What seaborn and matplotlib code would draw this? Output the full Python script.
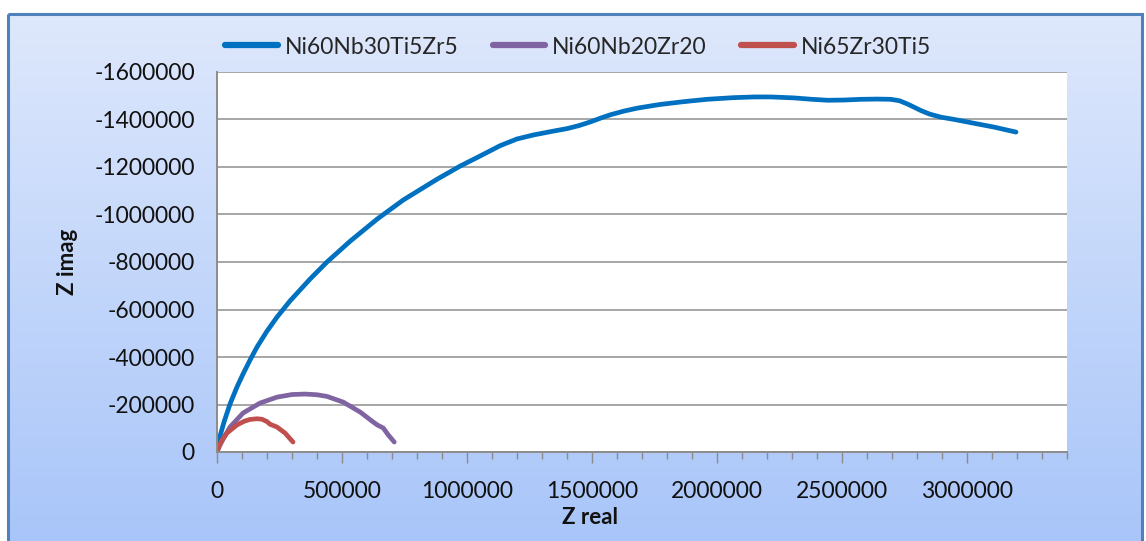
import numpy as np
import pandas as pd
import matplotlib
matplotlib.use("Agg")
import matplotlib.pyplot as plt
from matplotlib.patches import Rectangle
from matplotlib.ticker import MultipleLocator, FuncFormatter
import seaborn as sns

# ---- data ----
series_names = ["Ni60Nb30Ti5Zr5", "Ni60Nb20Zr20", "Ni65Zr30Ti5"]

zreal_a = [0, 12000, 28000, 52000, 80000, 104000, 132000, 160000, 200000, 240000,
           292000, 372000, 440000, 533000, 641000, 745000, 881000, 973000, 1050000,
           1133000, 1200000, 1266000, 1340000, 1402000, 1450000, 1494000, 1540000,
           1574000, 1630000, 1682000, 1770000, 1866000, 1960000, 2066000, 2150000,
           2215000, 2307000, 2380000, 2443000, 2510000, 2575000, 2640000, 2695000,
           2730000, 2760000, 2790000, 2815000, 2850000, 2895000, 2950000, 3004000,
           3108000, 3196000]
zimag_a = [0, -67000, -126000, -202000, -274000, -328000, -387000, -442000, -509000, -568000,
           -636000, -728000, -800000, -888000, -981000, -1061000, -1149000, -1204000, -1245000,
           -1290000, -1318000, -1335000, -1350000, -1362000, -1375000, -1390000, -1408000,
           -1420000, -1436000, -1448000, -1463000, -1475000, -1485000, -1492000, -1495000,
           -1495000, -1491000, -1485000, -1481000, -1482000, -1485000, -1486000, -1485000,
           -1479000, -1466000, -1451000, -1438000, -1423000, -1410000, -1400000, -1389000,
           -1368000, -1347000]

zreal_b = [0, 10000, 30000, 52000, 104000, 172000, 240000, 300000, 352000, 400000,
           440000, 505000, 573000, 620000, 641000, 665000, 685000, 709000]
zimag_b = [0, -25000, -65000, -105000, -164000, -206000, -231000, -242000, -244000, -241000,
           -234000, -210000, -168000, -130000, -114000, -101000, -72000, -42000]

zreal_c = [0, 8000, 20000, 40000, 80000, 110000, 132000, 160000, 180000, 200000,
           212000, 240000, 272000, 304000]
zimag_c = [0, -25000, -50000, -80000, -114000, -130000, -137000, -140000, -138000, -128000,
           -117000, -105000, -80000, -42000]

x_ticks = [0, 500000, 1000000, 1500000, 2000000, 2500000, 3000000]
y_ticks = [0, -200000, -400000, -600000, -800000, -1000000, -1200000, -1400000, -1600000]

colors = ["#0070C0", "#8064A2", "#C0504D"]

df = pd.concat([
    pd.DataFrame({"Z real": zreal_a, "Z imag": zimag_a, "series": series_names[0]}),
    pd.DataFrame({"Z real": zreal_b, "Z imag": zimag_b, "series": series_names[1]}),
    pd.DataFrame({"Z real": zreal_c, "Z imag": zimag_c, "series": series_names[2]}),
], ignore_index=True)

sns.set_theme(style="white")
plt.rcParams["font.family"] = ["Lato", "DejaVu Sans"]
plt.rcParams["axes.unicode_minus"] = False

W, H = 1146, 541
fig = plt.figure(figsize=(W / 100, H / 100), dpi=100)
fig.patch.set_facecolor("white")

# gradient background frame
bg = fig.add_axes([0, 0, 1, 1], zorder=-10)
bg.set_xlim(0, W)
bg.set_ylim(H, 0)
bg.axis("off")
grad = np.linspace(0, 1, 256).reshape(-1, 1)
cmap = matplotlib.colors.LinearSegmentedColormap.from_list("g", ["#DEE8FC", "#A8C5F9"])
bg.imshow(grad, cmap=cmap, aspect="auto", extent=[8, 1142, H + 5, 14], zorder=0)
bg.add_patch(Rectangle((8, 14), 1134, H + 20, fill=False, edgecolor="#4F81BD", lw=2.2, zorder=1))

ax = fig.add_axes([217 / W, (H - 452) / H, 850 / W, 380 / H])
ax.set_facecolor("white")

sns.lineplot(data=df, x="Z real", y="Z imag", hue="series", units="series",
             estimator=None, sort=False, palette=colors, hue_order=series_names,
             linewidth=3.4, ax=ax, legend=False)
for ln in ax.lines:
    ln.set_solid_capstyle("round")
    ln.set_solid_joinstyle("round")

ax.set_xlim(0, 3400000)
ax.set_ylim(0, -1600000)
ax.set_xticks(x_ticks)
ax.xaxis.set_minor_locator(MultipleLocator(100000))
ax.set_yticks(y_ticks)
fmt = FuncFormatter(lambda v, p: f"{int(round(v))}")
ax.xaxis.set_major_formatter(fmt)
ax.yaxis.set_major_formatter(fmt)
ax.tick_params(axis="x", which="major", direction="out", length=8, width=1, color="#8C8C8C",
               labelsize=16.5, pad=13, bottom=True)
ax.tick_params(axis="x", which="minor", direction="out", length=5, width=1, color="#8C8C8C",
               bottom=True)
ax.tick_params(axis="y", length=0, labelsize=16.5, pad=16)
for lab in ax.get_xticklabels() + ax.get_yticklabels():
    lab.set_color("#111111")
ax.grid(axis="y", color="#A6A6A6", lw=1.4)
ax.grid(axis="x", visible=False)
for s in ["top", "right"]:
    ax.spines[s].set_visible(False)
for s in ["left", "bottom"]:
    ax.spines[s].set_color("#8C8C8C")
    ax.spines[s].set_linewidth(1.4)
ax.set_xlabel("")
ax.set_ylabel("")

fig.text(590 / W, 1 - 518 / H, "Z real", ha="center", va="center", fontsize=16,
         fontweight="bold", color="#111111")
fig.text(68 / W, 1 - 262 / H, "Z imag", ha="center", va="center", fontsize=16,
         fontweight="bold", rotation=90, color="#111111")

handles = [matplotlib.lines.Line2D([], [], color=c, lw=4.5) for c in colors]
fig.legend(handles, series_names, loc="center", bbox_to_anchor=(578 / W, 1 - 47 / H),
           ncol=3, frameon=False, fontsize=16.5, handlelength=2.3, handletextpad=0.3,
           columnspacing=1.5)

fig.savefig("out.png", dpi=100)
